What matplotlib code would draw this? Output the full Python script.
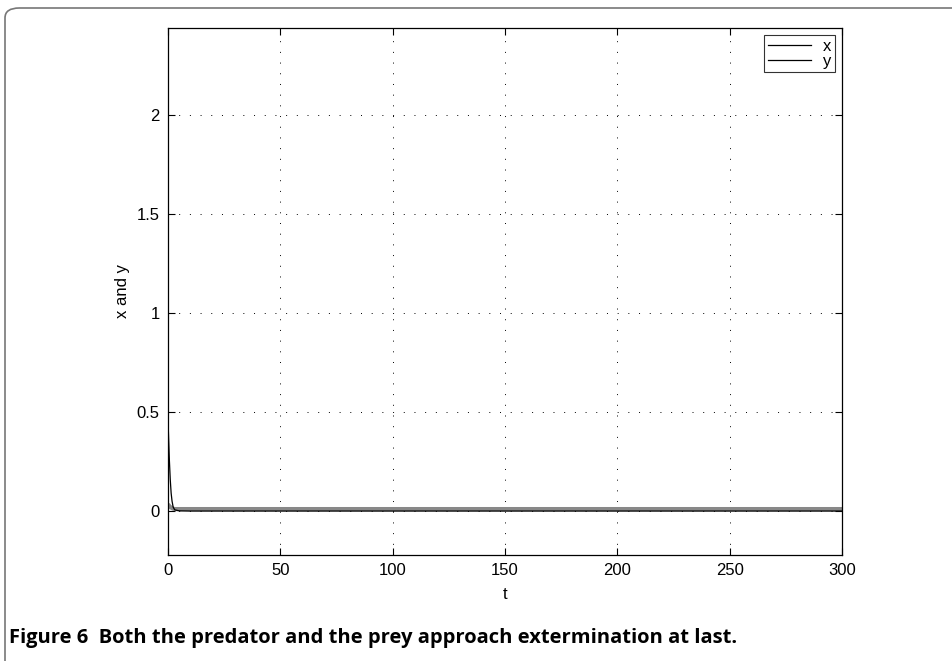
import matplotlib
matplotlib.use('Agg')
import matplotlib.pyplot as plt
from matplotlib.patches import FancyBboxPatch

# values
t = [0, 0.3, 0.6, 1.0, 1.4, 1.8, 2.3, 3.0, 5.0, 10, 50, 100, 150, 200, 250, 300]
x_vals = [0.46, 0.36, 0.26, 0.16, 0.09, 0.05, 0.02, 0.006, 0.001, 0, 0, 0, 0, 0, 0, 0]
y_vals = [0.03, 0.03, 0.025, 0.02, 0.018, 0.015, 0.012, 0.01, 0.01, 0.01, 0.01, 0.01, 0.01, 0.01, 0.01, 0.01]

xticks = [0, 50, 100, 150, 200, 250, 300]
yticks = [0, 0.5, 1, 1.5, 2]

plt.rcParams['font.family'] = ['Liberation Sans', 'DejaVu Sans']

fig = plt.figure(figsize=(9.53, 6.61), dpi=100)
ax = fig.add_axes([168/953, 1 - 555/661, (842 - 168)/953, (555 - 28)/661])

ax.plot(t, y_vals, color='#888888', lw=3, label='_nolegend_', zorder=2)
ax.plot(t, x_vals, color='black', lw=0.9, label='x', zorder=3)
ax.plot([], [], color='black', lw=0.9, label='y')

ax.set_xlim(0, 300)
ax.set_ylim(-0.222, 2.44)
ax.set_xticks(xticks)
ax.set_yticks(yticks)
ax.set_xticklabels([str(v) for v in xticks])
ax.set_yticklabels(['0', '0.5', '1', '1.5', '2'])
ax.tick_params(direction='in', top=True, right=True, labelsize=12, length=5, width=0.8, pad=6)
ax.grid(True, linestyle=(0, (1, 10)), color='black', lw=0.7)
for s in ax.spines.values():
    s.set_linewidth(0.9)

ax.set_xlabel('t', fontsize=12, labelpad=6)
ax.set_ylabel('x and y', fontsize=12, labelpad=5)

leg = ax.legend(loc='upper right', fontsize=12, handlelength=2.6, frameon=True,
                fancybox=False, edgecolor='black', borderaxespad=0.45,
                borderpad=0.2, labelspacing=0.0, handletextpad=0.7)
leg.get_frame().set_linewidth(0.8)

# outer rounded border of the figure panel
box = FancyBboxPatch((5/953, -0.1), 1.2, 1 - 8/661 + 0.1,
                     boxstyle='round,pad=0,rounding_size=0.015',
                     transform=fig.transFigure, fill=False,
                     edgecolor='#777777', lw=1.2, clip_on=False)
fig.patches.append(box)

fig.text(9/953, 1 - 638/661, 'Figure 6  Both the predator and the prey approach extermination at last.',
         fontsize=14.5, fontweight='bold', family=['Open Sans', 'DejaVu Sans'],
         va='center', ha='left')

fig.savefig('out.png', dpi=100)
